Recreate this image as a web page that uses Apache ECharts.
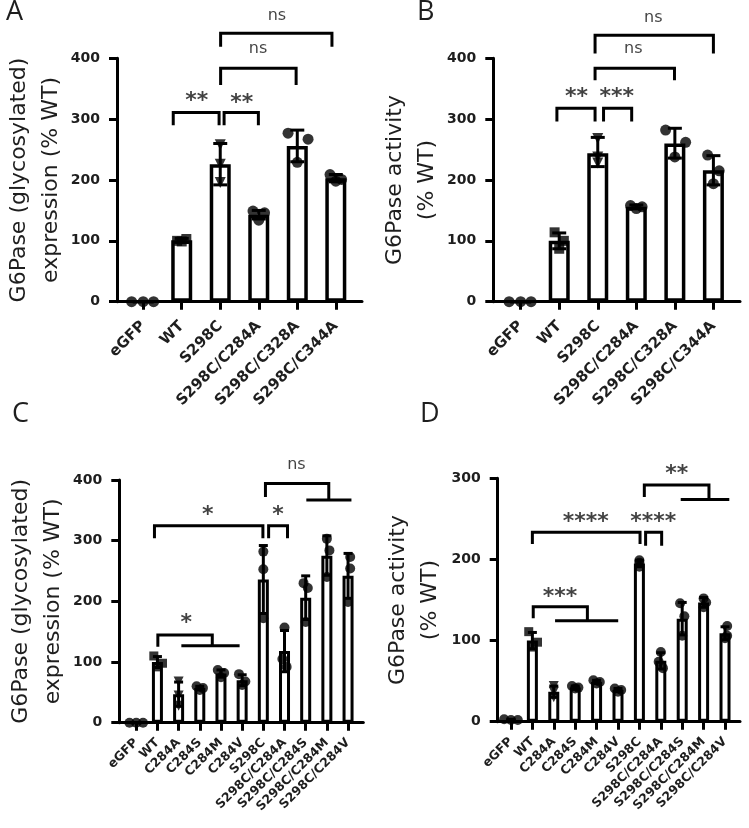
<!DOCTYPE html>
<html><head><meta charset="utf-8">
<script src="https://cdn.jsdelivr.net/npm/echarts@6/dist/echarts.min.js"></script>
<style>html,body{margin:0;padding:0;background:#fff}#c{width:749px;height:828px}</style>
</head><body><div id="c"></div>
<script>
// ---------- categories / ticks ----------
const catsAB = ['eGFP','WT','S298C','S298C/C284A','S298C/C328A','S298C/C344A'];
const catsCD = ['eGFP','WT','C284A','C284S','C284M','C284V','S298C','S298C/C284A','S298C/C284S','S298C/C284M','S298C/C284V'];
const yMaxABC = 400;
const yMaxD = 300;

// ---------- Panel A: glycosylated expression (% WT) ----------
const aMeans   = [0, 101, 226, 143, 256, 203];
const aErrLow  = [0, 98, 192, 136, 230, 197];
const aErrHigh = [0, 104, 260, 150, 282, 209];
const aPoints  = [[0,0,0],[100,103,99],[258,226,196],[149,146,134],[277,267,229],[209,201,198]];
const aShapes  = ['circle','rect','triangleDown','circle','circle','circle'];
const aBrackets = [
  [[0.78,290],[0.78,311],[1.97,311],[1.97,290]],
  [[2.1,290],[2.1,311],[2.99,311],[2.99,290]],
  [[2.01,356],[2.01,383.6],[3.97,383.6],[3.97,356]],
  [[2.01,419],[2.01,441],[4.9,441],[4.9,419]]
];
const aSigText = ['**','**','ns','ns'];
const aSigX = [1.39, 2.56, 2.98, 3.47];
const aSigY = [337, 334, 415, 469.5];

// ---------- Panel B: activity (% WT) ----------
const bMeans   = [0, 100, 244, 156, 260, 216];
const bErrLow  = [0, 87, 222, 153, 236, 192];
const bErrHigh = [0, 113, 270, 159, 285, 240];
const bPoints  = [[0,0,0],[114,100,87],[268,238,228],[158,156,153],[282,262,238],[241,215,194]];
const bShapes  = ['circle','rect','triangleDown','circle','circle','circle'];
const bBrackets = [
  [[0.94,296],[0.94,318],[1.93,318],[1.93,296]],
  [[2.15,296],[2.15,318],[2.88,318],[2.88,296]],
  [[1.93,364],[1.93,383.6],[3.99,383.6],[3.99,364]],
  [[1.93,408],[1.93,438],[5.0,438],[5.0,408]]
];
const bSigText = ['**','***','ns','ns'];
const bSigX = [1.45, 2.49, 2.92, 3.44];
const bSigY = [343.5, 343.5, 416, 466];

// ---------- Panel C: glycosylated expression (% WT) ----------
const cMeans   = [0, 100, 47, 57, 81, 70, 236, 118, 206, 275, 242];
const cErrLow  = [0, 91, 27, 54, 75, 61, 180, 84, 170, 243, 205];
const cErrHigh = [0, 109, 67, 60, 87, 79, 292, 152, 242, 308, 279];
const cPoints  = [[0,0,0],[110,98,92],[68,45,28],[60,57,54],[87,82,75],[80,68,62],[282,253,172],[157,105,92],[230,222,166],[303,284,240],[273,254,199]];
const cShapes  = ['circle','rect','triangleDown','circle','circle','circle','circle','circle','circle','circle','circle'];
const cBrackets = [
  [[1.02,125],[1.02,144.5],[3.59,144.5],[3.59,127]],
  [[2.13,127],[4.88,127]],
  [[0.86,304],[0.86,324.5],[5.98,324.5],[5.98,304]],
  [[6.25,304],[6.25,324.5],[7.14,324.5],[7.14,304]],
  [[6.1,372],[6.1,394.4],[9.09,394.4],[9.09,367]],
  [[8.03,367],[10.16,367]]
];
const cSigText = ['*','*','*','ns'];
const cSigX = [2.36, 3.38, 6.69, 7.56];
const cSigY = [172, 350, 350, 424.5];

// ---------- Panel D: activity (% WT) ----------
const dMeans   = [2, 100, 37, 42, 49, 39, 195, 75, 127, 147, 109];
const dErrLow  = [1, 90, 30, 40, 47, 37, 191, 65, 107, 141, 101];
const dErrHigh = [3, 110, 44, 44, 51, 41, 199, 85, 147, 153, 117];
const dPoints  = [[3,2,2],[111,98,92],[44,37,30],[44,42,41],[51,49,47],[41,39,37],[199,196,191],[86,74,66],[146,130,106],[152,147,141],[118,106,103]];
const dShapes  = ['circle','rect','triangleDown','circle','circle','circle','circle','circle','circle','circle','circle'];
const dBrackets = [
  [[1.04,127.4],[1.04,141.7],[3.57,141.7],[3.57,124.5]],
  [[2.06,124.5],[5.01,124.5]],
  [[1.0,219],[1.0,233.4],[6.03,233.4],[6.03,219]],
  [[6.29,217],[6.29,233.4],[7.04,233.4],[7.04,217]],
  [[6.23,277],[6.23,291.8],[9.25,291.8],[9.25,274]],
  [[7.93,274],[10.2,274]]
];
const dSigText = ['***','****','****','**'];
const dSigX = [2.29, 3.49, 6.65, 7.74];
const dSigY = [159.5, 252, 252, 311];

// ---------- layout (styles / positions) ----------
const jitterAB = [[-0.3,0,0.27],[-0.12,0.12,0],[0,0,0],[-0.15,0.15,0],[-0.24,0.28,0],[-0.15,0.15,0]];
const jitterCD = [[-0.32,0,0.32],[-0.17,0.24,0],[0,0,0],[-0.15,0.15,0],[-0.15,0.15,0],[-0.15,0.15,0],[0,0,0],[0,-0.1,0.1],[-0.1,0.1,0],[0,0.12,0],[0.1,0.1,0]];

const FONT = 'DejaVu Sans';
const TXT = '#1e1e1e';

const panels = [
  {cats:catsAB, means:aMeans, lo:aErrLow, hi:aErrHigh, pts:aPoints, shapes:aShapes, br:aBrackets, st:aSigText, sx:aSigX, sy:aSigY,
   grid:{left:117, top:58.3, width:245, height:243.4}, xmin:-0.68, xmax:5.68, ymax:yMaxABC,
   name:'G6Pase (glycosylated)\nexpression (% WT)', nameGap:38, barW:21, border:3.5, cap:14, sym:11, lab:15, labMargin:22, jit:jitterAB},
  {cats:catsAB, means:bMeans, lo:bErrLow, hi:bErrHigh, pts:bPoints, shapes:bShapes, br:bBrackets, st:bSigText, sx:bSigX, sy:bSigY,
   grid:{left:493.3, top:58.3, width:246.7, height:243.4}, xmin:-0.71, xmax:5.69, ymax:yMaxABC,
   name:'G6Pase activity\n(% WT)', nameGap:43, barW:21, border:3.5, cap:14, sym:11, lab:15, labMargin:22, jit:jitterAB},
  {cats:catsCD, means:cMeans, lo:cErrLow, hi:cErrHigh, pts:cPoints, shapes:cShapes, br:cBrackets, st:cSigText, sx:cSigX, sy:cSigY,
   grid:{left:119.3, top:480, width:244, height:242.7}, xmin:-0.8, xmax:10.72, ymax:yMaxABC,
   name:'G6Pase (glycosylated)\nexpression (% WT)', nameGap:40, barW:11, border:3, cap:9, sym:10, lab:12.5, labMargin:18, jit:jitterCD},
  {cats:catsCD, means:dMeans, lo:dErrLow, hi:dErrHigh, pts:dPoints, shapes:dShapes, br:dBrackets, st:dSigText, sx:dSigX, sy:dSigY,
   grid:{left:497.7, top:478.3, width:242.3, height:243.4}, xmin:-0.62, xmax:10.7, ymax:yMaxD,
   name:'G6Pase activity\n(% WT)', nameGap:51, barW:11, border:3, cap:9, sym:10, lab:12.5, labMargin:18, jit:jitterCD}
];

const grids = [], xAxes = [], yAxes = [], series = [];
panels.forEach((p, i) => {
  grids.push(Object.assign({containLabel:false, outerBoundsMode:'none'}, p.grid));
  const idxs = p.cats.map((c, k) => k);
  xAxes.push({
    gridIndex:i, type:'value', min:p.xmin, max:p.xmax,
    axisLine:{show:true, onZero:false, lineStyle:{color:'#000', width:3}},
    axisTick:{show:true, customValues:idxs, length:8, lineStyle:{color:'#000', width:3}},
    axisLabel:{show:true, customValues:idxs, rotate:45, margin:p.labMargin, formatter:v => p.cats[Math.round(v)],
      fontSize:p.lab, fontWeight:'bold', fontFamily:FONT, color:TXT},
    splitLine:{show:false}
  });
  yAxes.push({
    gridIndex:i, type:'value', min:0, max:p.ymax, interval:100,
    axisLine:{show:true, onZero:false, lineStyle:{color:'#000', width:3}},
    axisTick:{show:true, length:8, lineStyle:{color:'#000', width:3}},
    axisLabel:{fontSize:14, fontWeight:'bold', fontFamily:FONT, color:TXT, margin:17},
    splitLine:{show:false},
    name:p.name, nameLocation:'middle', nameRotate:90, nameGap:p.nameGap,
    nameTextStyle:{fontSize:22, lineHeight:32, fontFamily:FONT, color:TXT, align:'center'}
  });
  // bars
  series.push({type:'bar', xAxisIndex:i, yAxisIndex:i, barWidth:p.barW, silent:true, z:2,
    itemStyle:{color:'#fff', borderColor:'#000', borderWidth:p.border},
    data:p.means.map((m, k) => [k, m])});
  // error bars
  const cap = p.cap;
  series.push({type:'custom', xAxisIndex:i, yAxisIndex:i, silent:true, z:3,
    data:p.means.map((m, k) => [k, p.lo[k], p.hi[k]]).filter(d => d[2] > d[1]),
    renderItem:(params, api) => {
      const a = api.coord([api.value(0), api.value(1)]);
      const b = api.coord([api.value(0), api.value(2)]);
      const st = {stroke:'#000', lineWidth:3};
      return {type:'group', children:[
        {type:'line', shape:{x1:a[0], y1:a[1], x2:b[0], y2:b[1]}, style:st},
        {type:'line', shape:{x1:b[0]-cap/2, y1:b[1], x2:b[0]+cap/2, y2:b[1]}, style:st},
        {type:'line', shape:{x1:a[0]-cap/2, y1:a[1], x2:a[0]+cap/2, y2:a[1]}, style:st}
      ]};
    }});
  // points
  p.pts.forEach((vals, k) => {
    const tri = p.shapes[k] === 'triangleDown';
    series.push({type:'scatter', xAxisIndex:i, yAxisIndex:i, silent:true, z:4, clip:false,
      symbol: tri ? 'triangle' : p.shapes[k], symbolRotate: tri ? 180 : 0,
      symbolSize: p.shapes[k] === 'rect' ? p.sym - 1 : p.sym,
      itemStyle:{color:'#000'},
      data: vals.map((v, j) => [k + p.jit[k][j], v])});
  });
  // significance brackets
  p.br.forEach(path => {
    series.push({type:'line', xAxisIndex:i, yAxisIndex:i, silent:true, z:5, clip:false,
      symbol:'none', lineStyle:{color:'#000', width:3, join:'miter', cap:'butt'}, data:path});
  });
  // significance texts
  series.push({type:'scatter', xAxisIndex:i, yAxisIndex:i, silent:true, z:6, clip:false,
    symbolSize:1, itemStyle:{color:'rgba(0,0,0,0)'},
    data:p.st.map((t, k) => ({value:[p.sx[k], p.sy[k]], label:{
      formatter:t,
      fontSize: t === 'ns' ? 16 : 22,
      fontWeight: t === 'ns' ? 'normal' : 'bold',
      offset: t === 'ns' ? [0, 0] : [0, 5]
    }})),
    label:{show:true, position:'inside', color:'#111', fontFamily:FONT}});
});

const letterStyle = {fontSize:27, fontWeight:'normal', fontFamily:'Open Sans', color:TXT};
const chart = echarts.init(document.getElementById('c'), null, {renderer:'canvas'});
chart.setOption({
  animation:false,
  backgroundColor:'#fff',
  title:[
    {text:'A', left:6, top:-1, padding:0, textStyle:letterStyle},
    {text:'B', left:417, top:-1, padding:0, textStyle:letterStyle},
    {text:'C', left:12, top:401, padding:0, textStyle:letterStyle},
    {text:'D', left:420, top:401, padding:0, textStyle:letterStyle}
  ],
  grid:grids, xAxis:xAxes, yAxis:yAxes, series:series
});
</script></body></html>
